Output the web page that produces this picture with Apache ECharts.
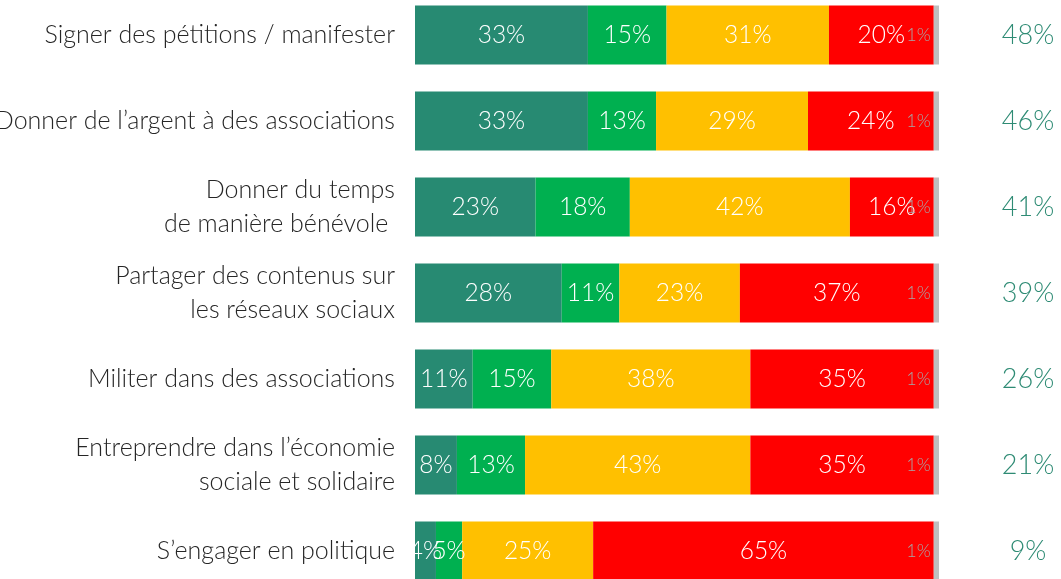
<!DOCTYPE html>
<html>
<head>
<meta charset="utf-8">
<script src="https://cdn.jsdelivr.net/npm/echarts@6/dist/echarts.min.js"></script>
<style>html,body{margin:0;padding:0;background:#fff;}#c{width:1061px;height:579px;}</style>
</head>
<body>
<div id="c"></div>
<script>
const categories = [
  "Signer des pétitions / manifester",
  "Donner de l’argent à des associations",
  "Donner du temps\nde manière bénévole ",
  "Partager des contenus sur\nles réseaux sociaux",
  "Militer dans des associations",
  "Entreprendre dans l’économie\nsociale et solidaire",
  "S’engager en politique"
];
const darkGreen = [33, 33, 23, 28, 11, 8, 4];
const green     = [15, 13, 18, 11, 15, 13, 5];
const yellow    = [31, 29, 42, 23, 38, 43, 25];
const red       = [20, 24, 16, 37, 35, 35, 65];
const grey      = [1, 1, 1, 1, 1, 1, 1];
const totals    = [48, 46, 41, 39, 26, 21, 9];

const FONT = 'Lato';
function seg(name, data, color) {
  return {
    name, type: 'bar', stack: 'all', data,
    barWidth: 59,
    itemStyle: { color },
    label: {
      show: true, position: 'inside', formatter: p => p.value + '%',
      color: '#fff', fontFamily: FONT, fontWeight: 300, fontSize: 24.5
    }
  };
}
const chart = echarts.init(document.getElementById('c'), null, { renderer: 'canvas' });
chart.setOption({
  animation: false,
  grid: { left: 415, right: 122, top: -8, bottom: -15, outerBoundsMode: 'none', containLabel: false },
  xAxis: { type: 'value', min: 0, max: 100, show: false },
  yAxis: [
    {
      type: 'category', data: categories, inverse: true,
      axisLine: { show: false }, axisTick: { show: false },
      axisLabel: { margin: 20, color: '#262626', fontFamily: FONT, fontWeight: 300, fontSize: 25, lineHeight: 34, align: 'right' }
    },
    {
      type: 'category', data: totals.map(v => v + '%'), inverse: true, position: 'right',
      axisLine: { show: false }, axisTick: { show: false },
      axisLabel: { margin: 89, align: 'center', color: '#2E8B74', fontFamily: FONT, fontWeight: 300, fontSize: 27 }
    }
  ],
  series: [
    seg('dg', darkGreen, '#278A72'),
    seg('g', green, '#00B050'),
    seg('y', yellow, '#FFC000'),
    seg('r', red, '#FF0000'),
    {
      name: 'gr', type: 'bar', stack: 'all', data: grey, barWidth: 59,
      itemStyle: { color: '#BFBFBF' },
      label: { show: true, position: 'left', distance: 3, formatter: p => p.value + '%',
               color: '#A6A6A6', fontFamily: FONT, fontWeight: 300, fontSize: 18 }
    }
  ]
});
</script>
</body>
</html>
